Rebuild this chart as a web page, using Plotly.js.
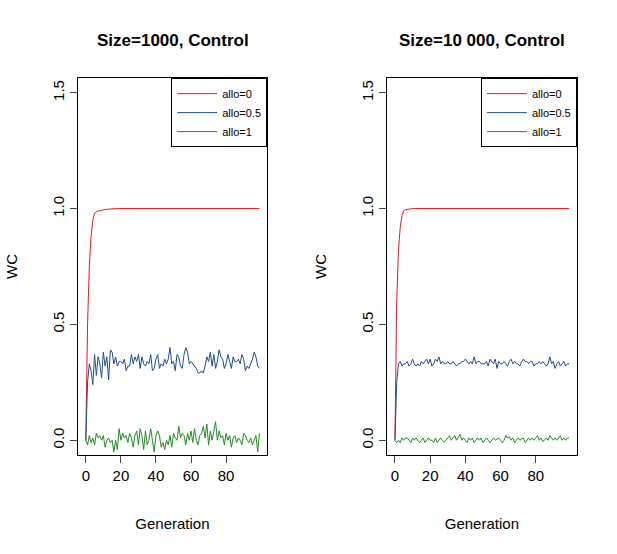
<!DOCTYPE html>
<html>
<head>
<script src="https://cdn.plot.ly/plotly-3.0.1.min.js"></script>
<style>body{margin:0}</style>
</head>
<body>
<div id="chart" style="width:617px;height:554px"></div>
<script>
// generations 0..99
var generation = [];
for (var g = 0; g < 100; g++) generation.push(g);

var red1000 = [0, 0.5, 0.75, 0.88, 0.95, 0.98, 0.985, 0.99, 0.99, 0.993, 0.995, 0.996, 0.997, 0.998, 0.999, 1];
var blue1000 = [0, 0.25, 0.33, 0.30, 0.24, 0.37, 0.28, 0.36, 0.33, 0.27, 0.38, 0.32, 0.36, 0.26, 0.39, 0.38, 0.33, 0.36, 0.32, 0.34,
  0.34, 0.33, 0.35, 0.30, 0.32, 0.32, 0.37, 0.33, 0.36, 0.34, 0.37, 0.31, 0.36, 0.33, 0.32, 0.34, 0.33, 0.37, 0.30, 0.31,
  0.35, 0.37, 0.31, 0.33, 0.32, 0.35, 0.33, 0.35, 0.40, 0.33, 0.34, 0.30, 0.37, 0.36, 0.32, 0.31, 0.37, 0.40, 0.38, 0.33,
  0.34, 0.33, 0.32, 0.31, 0.29, 0.29, 0.30, 0.29, 0.32, 0.36, 0.34, 0.38, 0.32, 0.37, 0.31, 0.34, 0.39, 0.36, 0.35, 0.31,
  0.33, 0.37, 0.34, 0.31, 0.36, 0.34, 0.34, 0.35, 0.33, 0.37, 0.35, 0.30, 0.32, 0.31, 0.33, 0.35, 0.38, 0.36, 0.32, 0.31];
var green1000 = [0, -0.02, 0.02, -0.01, 0.01, -0.02, 0.03, 0.01, 0.02, 0.0, 0.02, -0.03, 0.0, 0.01, -0.01, 0.0, -0.05, 0.0, -0.04, 0.05,
  0.0, 0.03, 0.01, 0.02, -0.01, 0.03, 0.01, -0.03, 0.02, 0.04, -0.02, 0.05, 0.02, -0.04, 0.04, -0.02, 0.0, 0.05, 0.0, -0.05,
  0.02, 0.04, 0.02, -0.03, -0.01, -0.04, 0.0, -0.02, 0.02, -0.03, 0.03, 0.01, 0.0, 0.06, 0.01, 0.03, 0.02, -0.02, 0.03, 0.0,
  0.04, -0.01, 0.05, 0.0, -0.02, 0.02, 0.03, 0.06, 0.01, 0.07, -0.02, 0.04, 0.0, 0.05, 0.08, 0.0, 0.04, 0.01, 0.02, -0.02,
  0.03, 0.0, 0.02, -0.03, 0.01, 0.02, -0.01, 0.01, 0.0, -0.02, 0.03, 0.02, 0.0, -0.01, 0.01, -0.02, 0.0, 0.02, -0.05, 0.03];

var red10000 = [0, 0.6, 0.82, 0.92, 0.97, 0.99, 0.995, 0.997, 0.998, 0.999, 1];
var blue10000 = [0, 0.25, 0.33, 0.34, 0.32, 0.33, 0.33, 0.34, 0.32, 0.33, 0.35, 0.33, 0.32, 0.33, 0.32, 0.34, 0.33, 0.34, 0.35, 0.33,
  0.35, 0.32, 0.33, 0.35, 0.34, 0.36, 0.33, 0.34, 0.33, 0.33, 0.34, 0.33, 0.33, 0.34, 0.33, 0.32, 0.33, 0.33, 0.34, 0.34,
  0.35, 0.34, 0.33, 0.34, 0.33, 0.36, 0.33, 0.34, 0.34, 0.33, 0.33, 0.33, 0.34, 0.32, 0.35, 0.34, 0.33, 0.35, 0.31, 0.34,
  0.33, 0.33, 0.34, 0.33, 0.32, 0.34, 0.35, 0.33, 0.34, 0.33, 0.33, 0.32, 0.34, 0.35, 0.34, 0.34, 0.33, 0.34, 0.34, 0.32,
  0.33, 0.33, 0.34, 0.33, 0.34, 0.33, 0.32, 0.33, 0.36, 0.33, 0.34, 0.31, 0.33, 0.34, 0.32, 0.33, 0.34, 0.32, 0.33, 0.33];
var green10000 = [0, -0.01, 0.0, -0.01, 0.01, 0.0, 0.01, 0.01, 0.0, -0.01, 0.01, 0.0, 0.01, 0.0, -0.01, 0.0, 0.01, -0.01, 0.0, 0.01,
  0.0, 0.0, -0.01, 0.01, -0.01, 0.0, 0.01, 0.0, -0.01, 0.0, 0.01, 0.02, 0.0, 0.01, 0.02, 0.0, 0.01, 0.025, 0.0, 0.01,
  0.0, -0.01, 0.01, 0.0, 0.01, -0.01, 0.0, 0.01, 0.0, 0.01, -0.01, 0.0, 0.01, 0.0, -0.01, 0.0, 0.01, 0.0, 0.005, 0.01,
  0.0, -0.01, 0.0, 0.02, 0.01, 0.015, 0.0, 0.01, -0.01, 0.0, 0.01, 0.0, 0.005, 0.01, -0.01, 0.0, 0.01, 0.0, 0.01, 0.0,
  0.01, 0.02, 0.0, 0.01, -0.005, 0.0, 0.01, 0.0, 0.02, 0.01, 0.0, 0.01, 0.0, 0.01, 0.02, 0.0, 0.01, 0.0, 0.01, 0.01];

function pad(arr) {
  var out = arr.slice();
  while (out.length < 100) out.push(1);
  return out;
}

var names = ['allo=0', 'allo=0.5', 'allo=1'];
var colors = ['#e41a1c', '#1f4e8c', '#238b22'];

function series(ys, xa, ya, lg) {
  return ys.map(function (y, i) {
    return {x: generation, y: y, type: 'scatter', mode: 'lines', name: names[i],
      xaxis: xa, yaxis: ya, legend: lg,
      line: {color: colors[i], width: 1}};
  });
}

var data = series([pad(red1000), blue1000, green1000], 'x', 'y', 'legend')
  .concat(series([pad(red10000), blue10000, green10000], 'x2', 'y2', 'legend2'));

function xax(dom, anchor) {
  return {domain: dom, anchor: anchor, range: [-4.6, 103.4], tickvals: [0, 20, 40, 60, 80],
    showline: true, mirror: true, linecolor: 'black', ticks: 'outside', ticklen: 7,
    showgrid: false, zeroline: false, tickfont: {size: 15},
    title: {text: 'Generation', font: {size: 15}, standoff: 35}};
}
function yax(anchor) {
  return {domain: [0.179, 0.859], anchor: anchor, range: [-0.063, 1.563], tickvals: [0, 0.5, 1, 1.5],
    ticktext: ['0.0', '0.5', '1.0', '1.5'], tickangle: -90,
    showline: true, mirror: true, linecolor: 'black', ticks: 'outside', ticklen: 7,
    showgrid: false, zeroline: false, tickfont: {size: 15},
    title: {text: 'WC', font: {size: 15}, standoff: 28}};
}
function leg(x) {
  return {x: x, xanchor: 'right', y: 0.859, yanchor: 'top', bordercolor: 'black', borderwidth: 1,
    bgcolor: 'white', font: {size: 11}, itemwidth: 40, tracegroupgap: 0};
}

var layout = {
  width: 617, height: 554, margin: {l: 0, r: 0, t: 0, b: 0},
  font: {family: 'Liberation Sans, Arial, sans-serif', color: 'black'},
  paper_bgcolor: 'white', plot_bgcolor: 'white',
  xaxis: xax([0.126, 0.433], 'y'), yaxis: yax('x'),
  xaxis2: xax([0.627, 0.935], 'y2'), yaxis2: yax('x2'),
  legend: leg(0.433), legend2: leg(0.935),
  annotations: [
    {text: '<b>Size=1000, Control</b>', xref: 'paper', yref: 'paper', x: 0.28, y: 0.926,
      xanchor: 'center', yanchor: 'middle', showarrow: false, font: {size: 17}},
    {text: '<b>Size=10 000, Control</b>', xref: 'paper', yref: 'paper', x: 0.781, y: 0.926,
      xanchor: 'center', yanchor: 'middle', showarrow: false, font: {size: 17}}
  ]
};

Plotly.newPlot('chart', data, layout, {displayModeBar: false});
</script>
</body>
</html>
